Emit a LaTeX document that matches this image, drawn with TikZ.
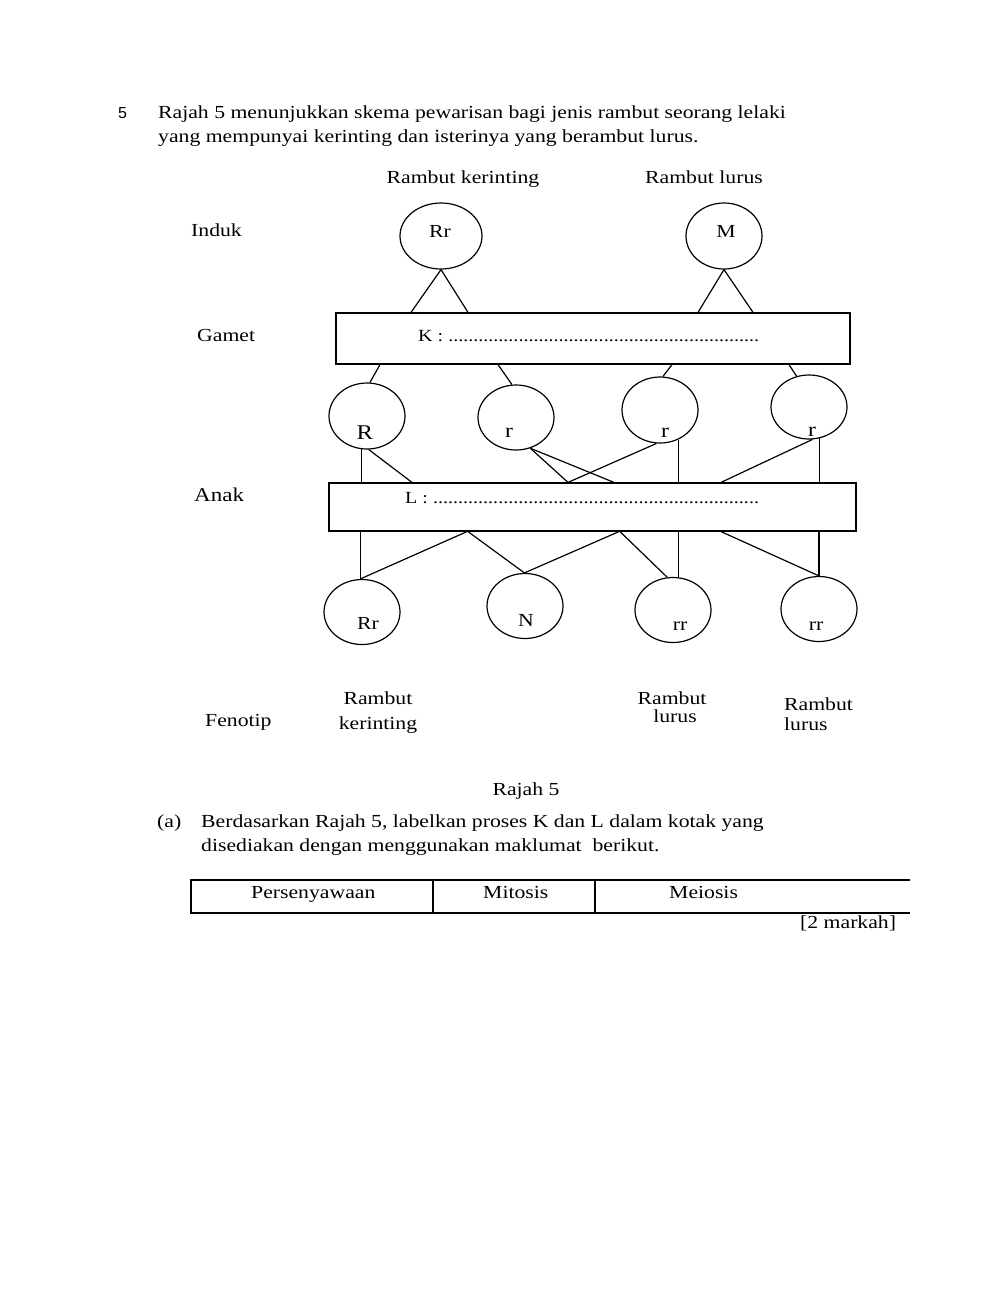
\documentclass[tikz,border=0pt]{standalone}
\usepackage{fontspec}
\setmainfont{Liberation Serif}[FakeStretch=1.18]
\newfontfamily\numsans{Liberation Sans}
\usetikzlibrary{shapes.geometric}
\newcommand\dotrow[1]{\foreach\i in {1,...,#1}{.}}
\begin{document}
\begin{tikzpicture}[x=1pt,y=-1pt,
  every node/.style={inner sep=0pt, font=\fontsize{18.4}{22}\selectfont},
  txt/.style={anchor=base west},
  ctxt/.style={anchor=base},
  cell/.style={draw, ellipse, line width=1.2pt, minimum width=76pt, minimum height=65pt},
  bar/.style={draw, rectangle, line width=1.2pt},
  link/.style={line width=1.2pt}]
\path[use as bounding box, fill=white] (0,0) rectangle (1000,1291);

% question text
\node[txt, font=\numsans\fontsize{16}{20}\selectfont] (qn) at (118,118) {5};
\node[txt] (q1) at (158,118) {Rajah 5 menunjukkan skema pewarisan bagi jenis rambut seorang lelaki};
\node[txt] (q2) at (158,142) {yang mempunyai kerinting dan isterinya yang berambut lurus.};

% headings
\node[ctxt] (hk) at (463,183) {Rambut kerinting};
\node[ctxt] (hl) at (704,183) {Rambut lurus};

% row labels
\node[txt] (induk) at (191,236) {Induk};
\node[txt] (gamet) at (197,341) {Gamet};
\node[txt, font=\fontsize{19.5}{22}\selectfont] (anak) at (194,501) {Anak};
\node[txt] (feno) at (205,726) {Fenotip};

% parents
\node[cell, minimum width=82pt, minimum height=66pt] (PRr) at (441,236) {};
\node[cell, minimum height=66pt] (PM) at (724,236) {};
\node[ctxt] (tPRr) at (440,237) {Rr};
\node[ctxt] (tPM) at (726,237) {M};

% process boxes
\node[bar, minimum width=514pt, minimum height=51pt] (K) at (593,338.5) {};
\node[txt, font=\fontsize{17}{20}\selectfont] (tK) at (418,341) {K : \dotrow{62}};
\node[bar, minimum width=527pt, minimum height=48pt] (L) at (592.5,507) {};
\node[txt, font=\fontsize{17}{20}\selectfont] (tL) at (405,503) {L : \dotrow{65}};

% gametes
\node[cell, minimum height=66pt] (gR) at (367,416) {};
\node[cell] (g2) at (516,417.5) {};
\node[cell, minimum height=66pt] (g3) at (660,410) {};
\node[cell, minimum height=64pt] (g4) at (809,407) {};
\node[ctxt, font=\fontsize{21}{24}\selectfont] (tgR) at (365,439) {R};
\node[ctxt, font=\fontsize{20}{24}\selectfont] (tg2) at (509,437) {r};
\node[ctxt, font=\fontsize{20}{24}\selectfont] (tg3) at (665,437) {r};
\node[ctxt, font=\fontsize{20}{24}\selectfont] (tg4) at (812,436) {r};

% offspring
\node[cell] (oA) at (362,612) {};
\node[cell] (oB) at (525,606) {};
\node[cell] (oC) at (673,610) {};
\node[cell] (oD) at (819,609) {};
\node[ctxt] (toA) at (368,629) {Rr};
\node[ctxt] (toB) at (526,626) {N};
\node[ctxt] (toC) at (680,630) {rr};
\node[ctxt] (toD) at (816,630) {rr};

% phenotypes
\node[ctxt] (f1a) at (378,704) {Rambut};
\node[ctxt] (f1b) at (378,729) {kerinting};
\node[ctxt] (f3a) at (672,704) {Rambut};
\node[ctxt] (f3b) at (675,722) {lurus};
\node[txt] (f4a) at (784,710) {Rambut};
\node[txt] (f4b) at (784,730) {lurus};

% connectors: parents -> K
\draw[link] (PRr.south) -- (411,0 |- K.north);
\draw[link] (PRr.south) -- (468,0 |- K.north);
\draw[link] (PM.south) -- (698,0 |- K.north);
\draw[link] (PM.south) -- (753,0 |- K.north);

% K -> gametes
\draw[link] (380,0 |- K.south) -- (gR.85);
\draw[link] (498,0 |- K.south) -- (g2.97);
\draw[link] (672,0 |- K.south) -- (g3.85);
\draw[link] (789,0 |- K.south) -- (g4.112);

% gametes -> L
\draw[link] (gR.260) -- (gR.260 |- L.north);
\draw[link] (gR.273) -- (412,0 |- L.north);
\draw[link] (g2.295) -- (568,0 |- L.north);
\draw[link] (g2.295) -- (614,0 |- L.north);
\draw[link] (g3.264) -- (568,0 |- L.north);
\draw[link] (g3.302) -- (g3.302 |- L.north);
\draw[link] (g4.276) -- (721,0 |- L.north);
\draw[link] (g4.289) -- (g4.289 |- L.north);

% L -> offspring
\draw[link] (oA.93 |- L.south) -- (oA.93);
\draw[link] (467,0 |- L.south) -- (oA.93);
\draw[link] (468,0 |- L.south) -- (oB.91);
\draw[link] (619,0 |- L.south) -- (oB.91);
\draw[link] (620,0 |- L.south) -- (oC.100);
\draw[link] (oC.81 |- L.south) -- (oC.81);
\draw[link] (721,0 |- L.south) -- (oD.north);
\draw[link] (oD.north |- L.south) -- (oD.north);

% caption and part (a)
\node[ctxt] (cap) at (526,795) {Rajah 5};
\node[txt] (pa) at (157,827) {(a)};
\node[txt] (a1) at (201,827) {Berdasarkan Rajah 5, labelkan proses K dan L dalam kotak yang};
\node[txt] (a2) at (201,851) {disediakan dengan menggunakan maklumat\ \ berikut.};

% table
\draw[line width=1.2pt] (910,880) -- (191,880) -- (191,913) -- (910,913);
\draw[line width=1.2pt] (433,880) -- (433,913);
\draw[line width=1.2pt] (595,880) -- (595,913);
\node[txt] (c1) at (251,898) {Persenyawaan};
\node[txt] (c2) at (483,898) {Mitosis};
\node[txt] (c3) at (669,898) {Meiosis};
\node[txt] (mk) at (800,928) {[2 markah]};
\end{tikzpicture}
\end{document}
